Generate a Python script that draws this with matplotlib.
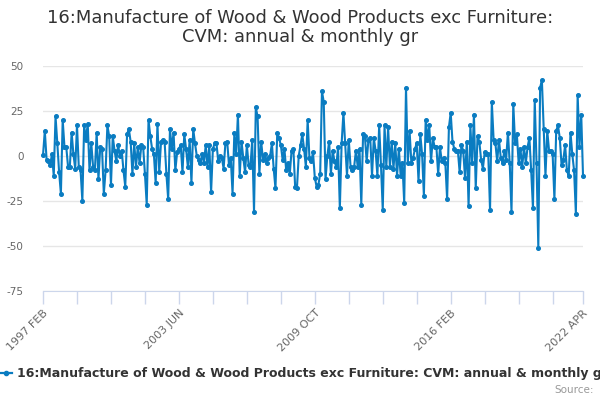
import matplotlib
matplotlib.use("Agg")
import matplotlib.pyplot as plt
import numpy as np

# monthly values, 1997 FEB .. 2022 APR
values_1997_1999 = [0.5, 14, -2, -3, -5, 1, -11, 22, 7, -9, -21, 20, 5, 5, -6, -6, 13, 1,
                    -7, 17, -6, -8, -25, 17, 9, 18, -8, 7]
values_1999_2002 = [-6, -8, 13, -13, 5, 4, -21, -8, 17, 11, -16, 11, 3, -3, 6, 0, 3, -8,
                    -17, 12, 15, 8, -10, 7, -6, 5, -4, 6, 5, -10, -27]
values_2002_2004 = [20, 11, 4, 1, -15, 18, -9, 8, 9, 8, -10, -24, 15, 4, 13, -8, 2, 4,
                    6, -9, 12, 4, -6, 9, -15, 15, 7, 0, -2, -4, 1]
values_2004_2007 = [-4, 6, -6, 6, -20, 4, 7, 7, -3, 0, -1, -7, 7, 8, -5, -1, -21, 13,
                    1, 23, -11, 8, -1, -9, 6, -5, -6, 9, -31, 27, 22]
values_2007_2009 = [-10, 8, -2, 1, -4, -1, 0, 7, -7, -18, 13, 10, 6, -2, 4, -8, -4, -10,
                    3, 4, -17, -18, 0, 6, 12, 4, -6, 20, -1, -3, 2]
values_2009_2012 = [-12, -17, -16, -10, 36, 30, -13, 0, 8, -10, 3, -3, -6, 5, -29, 7, 24,
                    7, -11, 9, -6, -8, -6, 3, -6, 4, -27, 12, 11, -3, 9]
values_2012_2014 = [10, -11, 10, 3, -11, 17, -5, -30, 17, -6, 16, -6, 8, -7, 7, -11, 4,
                    -11, -4, -26, 38, -4, 14, -4, -1, 4, 7, -14, 12, 1]
values_2014_2017 = [-22, 20, 9, 17, -3, 10, 5, 5, -10, 5, -3, -1, -4, -24, 16, 24, 8, 4,
                    3, 3, -9, 6, 3, -12, 8, -28, 17, -4, 23, -18, 11]
values_2017_2019 = [8, -2, -7, 2, 1, 1, -30, 30, 9, 7, -3, 9, -1, -4, 3, -2, 13, -4,
                    -31, 29, 7, 12, -4, 4, -6, 5, -4, 5, 10, -8, -29]
values_2019_2022 = [31, -4, -51, 38, 42, 15, -11, 14, 3, 3, 1, -24, 14, 17, 10, -5, -2,
                    6, -8, -11, 13, 1, -8, -32, 34, 5, 23, -11]

values = (values_1997_1999 + values_1999_2002 + values_2002_2004 + values_2004_2007
          + values_2007_2009 + values_2009_2012 + values_2012_2014 + values_2014_2017
          + values_2017_2019 + values_2019_2022)

tick_labels = ['1997 FEB', '2003 JUN', '2009 OCT', '2016 FEB', '2022 APR']
tick_months = [0, 76, 152, 228, 302]
yticks = [-75, -50, -25, 0, 25, 50]

title = '16:Manufacture of Wood & Wood Products exc Furniture:\nCVM: annual & monthly gr'
series_name = '16:Manufacture of Wood & Wood Products exc Furniture: CVM: annual & monthly gr'

blue = '#0a7cc1'
grey = '#666666'

fig = plt.figure(figsize=(6, 4), dpi=100)
ax = fig.add_axes([0.0717, 0.2725, 0.9, 0.5625])

x = np.arange(len(values))
ax.plot(x, values, color=blue, lw=1.5, marker='o', ms=2.6, clip_on=False, zorder=3)

ax.set_xlim(0, 302)
ax.set_ylim(-75, 50)
ax.set_yticks(yticks)
ax.set_yticklabels([str(v) for v in yticks], color=grey, fontsize=7.5)
ax.grid(axis='y', color='#e6e6e6', lw=1)
ax.tick_params(axis='y', length=0, pad=14)

# minor tick marks every 19 months, labels every 76
ax.set_xticks(list(range(0, 300, 19)) + [302], minor=True)
ax.set_xticks(tick_months)
ax.set_xticklabels(tick_labels, rotation=45, ha='right', va='top',
                   rotation_mode='anchor', color=grey, fontsize=8)
ax.tick_params(axis='x', which='both', length=9, color='#ccd6eb', width=1)
ax.tick_params(axis='x', which='major', pad=3)

for s in ['top', 'right', 'left']:
    ax.spines[s].set_visible(False)
ax.spines['bottom'].set_color('#ccd6eb')
ax.set_axisbelow(True)

fig.text(0.5, 0.978, title, ha='center', va='top', fontsize=12.9, color='#333333',
         linespacing=1.1)

# legend entry at the bottom (runs off the right edge like the original)
fig.lines.append(plt.Line2D([0.0, 0.02], [0.067, 0.067], color=blue, lw=1.6,
                            transform=fig.transFigure))
fig.lines.append(plt.Line2D([0.01], [0.067], color=blue, marker='o', ms=3,
                            transform=fig.transFigure))
fig.text(0.028, 0.067, series_name, ha='left', va='center', fontsize=9,
         fontweight='bold', color='#333333')
fig.text(0.99, 0.025, 'Source:', ha='right', va='center', fontsize=7.5, color='#999999')

fig.savefig('out.png', dpi=100)
